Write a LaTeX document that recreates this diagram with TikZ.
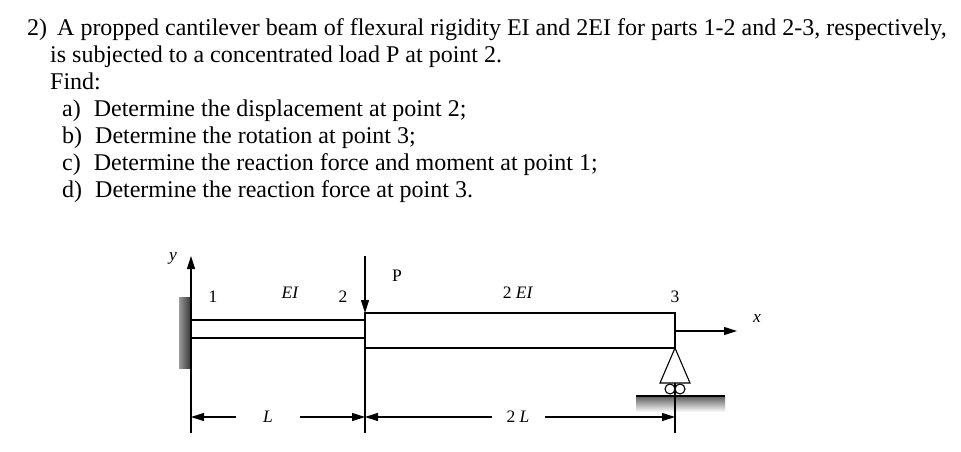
\documentclass[tikz,border=0pt]{standalone}
\usepackage{fontspec}
\setmainfont{Liberation Serif}
\usetikzlibrary{arrows.meta}
\begin{document}
\begin{tikzpicture}[x=1pt,y=-1pt,
  txt/.style={anchor=base west,inner sep=0,font=\fontsize{24}{28}\selectfont},
  lab/.style={inner sep=0,font=\fontsize{17.5}{20}\selectfont},
  itl/.style={inner sep=0,font=\itshape\fontsize{17.5}{20}\selectfont},
  ln/.style={line width=1.1pt},
  arr/.style={ln,-{Triangle[length=13pt,width=8pt]}}]
\useasboundingbox (0,0) rectangle (961,451);
\node[txt] (t1) at (27,35) {2)\hspace{10pt}A propped cantilever beam of flexural rigidity EI and 2EI for parts 1-2 and 2-3, respectively,};
\node[txt] (t2) at (50,62) {is subjected to a concentrated load P at point 2.};
\node[txt] (t3) at (50,89) {Find:};
\node[txt] (ta) at (62,116) {a)\hspace{13pt}Determine the displacement at point 2;};
\node[txt] (tb) at (62,143) {b)\hspace{13pt}Determine the rotation at point 3;};
\node[txt] (tc) at (62,170) {c)\hspace{13pt}Determine the reaction force and moment at point 1;};
\node[txt] (td) at (62,197) {d)\hspace{13pt}Determine the reaction force at point 3.};
% wall
\shade[left color=white!60!black, right color=black!80] (179,297) rectangle (191,368);
% beams
\draw[ln] (191,320) rectangle (365,338);
\draw[ln] (365,313) rectangle (675,348);
% axes
\coordinate (o) at (191,433);
\coordinate (ytop) at (191,256);
\draw[arr] (o) -- (ytop);
\node[itl] (ylab) at (173,258) {y};
\coordinate (x0) at (675,331);
\coordinate (x1) at (737,331);
\draw[arr] (x0) -- (x1);
\node[itl] (xlab) at (757,318) {x};
% load
\coordinate (p0) at (365,256);
\coordinate (p1) at (365,313);
\draw[arr] (p0) -- (p1);
\draw[ln] (365,313) -- (365,433);
\node[lab] (P) at (397,276) {P};
\node[lab] (n1) at (213,297) {1};
\node[itl] (EI) at (290,293) {EI};
\node[lab] (n2) at (343,297) {2};
\node[lab] (EI2) at (518,293) {2 \textit{EI}};
\node[lab] (n3) at (675,297) {3};
% support
\shade[top color=black!60, bottom color=white] (636,397) rectangle (725,412);
\draw[ln] (675,348) -- (675,433);
\draw[ln,fill=white] (675,348) -- (660,383) -- (690,383) -- cycle;
\draw[ln,fill=white] (670,389) circle (5);
\draw[ln,fill=white] (680,389) circle (5);
\draw[line width=2.5pt] (636,396) -- (725,396);
% dimensions
\node[itl] (L) at (268,417) {L};
\node[lab] (L2) at (518,417) {2 \textit{L}};
\draw[arr] (236,417) -- (191,417);
\draw[arr] (300,417) -- (365,417);
\draw[arr] (492,417) -- (365,417);
\draw[arr] (545,417) -- (675,417);
\end{tikzpicture}
\end{document}
